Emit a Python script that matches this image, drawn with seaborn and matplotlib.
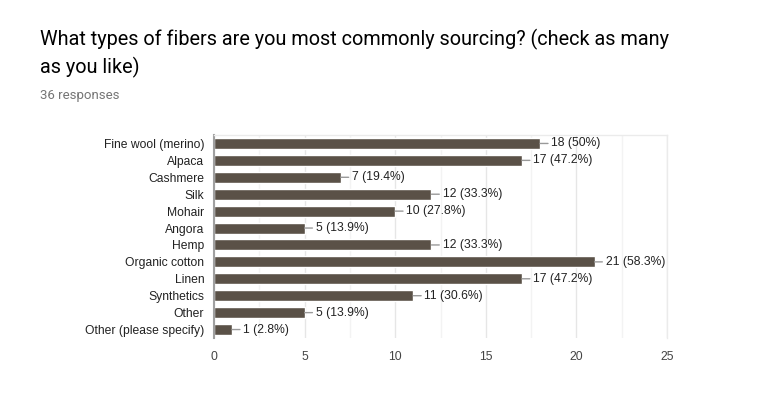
import matplotlib
matplotlib.use("Agg")
import matplotlib.pyplot as plt
import seaborn as sns
import pandas as pd
from matplotlib.ticker import MultipleLocator

categories = ["Fine wool (merino)", "Alpaca", "Cashmere", "Silk", "Mohair", "Angora",
              "Hemp", "Organic cotton", "Linen", "Synthetics", "Other", "Other (please specify)"]
counts = [18, 17, 7, 12, 10, 5, 12, 21, 17, 11, 5, 1]
percents = ["50%", "47.2%", "19.4%", "33.3%", "27.8%", "13.9%", "33.3%", "58.3%", "47.2%", "30.6%", "13.9%", "2.8%"]
xticks = [0, 5, 10, 15, 20, 25]

df = pd.DataFrame({"category": categories, "count": counts, "pct": percents})

sns.set_theme(style="white")
plt.rcParams['font.family'] = ['Liberation Sans', 'DejaVu Sans']

fig = plt.figure(figsize=(7.7, 4.12), dpi=100)
ax = fig.add_axes([214/770, 1-338/412, (667-214)/770, (338-135)/412])

sns.barplot(data=df, x="count", y="category", color="#5a5147", saturation=1,
            width=0.65, ax=ax, orient="h")

ax.set_xlim(0, 25)
ax.set_ylim(len(categories)-0.5, -0.5)
ax.set_xticks(xticks)
ax.xaxis.set_minor_locator(MultipleLocator(2.5))
ax.grid(True, which="major", axis="x", color="#e6e6e6", lw=1)
ax.grid(True, which="minor", axis="x", color="#f3f3f3", lw=1)
ax.set_axisbelow(True)
ax.set_xlabel("")
ax.set_ylabel("")
for s in ["top", "right"]:
    ax.spines[s].set_color("#ebebeb")
    ax.spines[s].set_linewidth(1)
ax.spines["bottom"].set_visible(False)
ax.spines["left"].set_color("#a0a0a0")
ax.spines["left"].set_linewidth(1.5)
ax.tick_params(axis="y", length=0, pad=7, labelsize=8.7, labelcolor="#222222")
ax.tick_params(axis="x", length=0, pad=9, labelsize=8.7, labelcolor="#444444")

for i, (c, p) in enumerate(zip(counts, percents)):
    ax.annotate(f"{c} ({p})", xy=(c, i), xytext=(8, 0), textcoords="offset points",
                va="center", ha="left", fontsize=8.7, color="#222222",
                arrowprops=dict(arrowstyle="-", color="#999999", lw=1,
                                shrinkA=0, shrinkB=0))

fig.text(40/770, 1-73/412, "What types of fibers are you most commonly sourcing? (check as many\nas you like)",
         fontsize=14.3, family=["Roboto", "DejaVu Sans"], color="#000000", va="baseline",
         linespacing=1.4)
fig.text(40/770, 1-99/412, "36 responses", fontsize=9.5, family=["Roboto", "DejaVu Sans"],
         color="#757575", va="baseline")

fig.savefig("out.png", dpi=100)
